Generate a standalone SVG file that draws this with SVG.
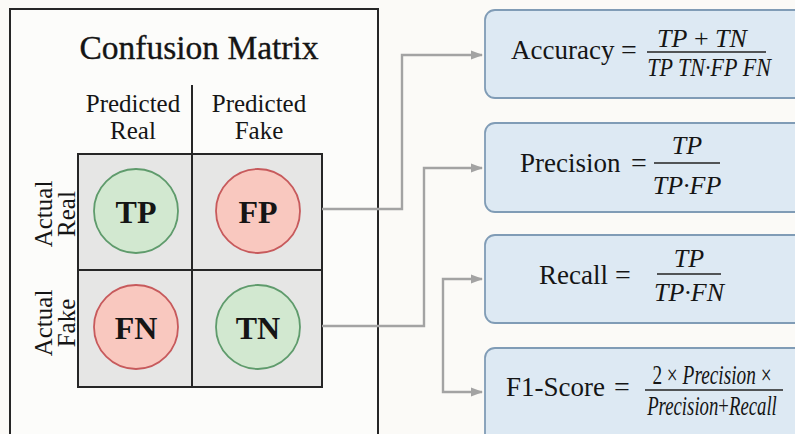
<svg xmlns="http://www.w3.org/2000/svg" width="795" height="434" viewBox="0 0 795 434">
  <defs>
    <marker id="arrow" viewBox="0 0 12 10" refX="11" refY="5" markerWidth="12" markerHeight="10" markerUnits="userSpaceOnUse" orient="auto">
      <path d="M0,0.5 L12,5 L0,9.5 Z" fill="#a3a3a3"/>
    </marker>
    <style>
      .serif { font-family: "Liberation Serif", "Times New Roman", serif; fill: #151515; }
      .title { font-size: 33.5px; stroke: #151515; stroke-width: 0.35; }
      .hdr { font-size: 25px; }
      .cell { font-size: 32px; font-weight: bold; }
      .lbl { font-size: 27px; }
      .eq { font-size: 28px; text-anchor: middle; }
      .num { font-size: 26px; font-style: italic; text-anchor: middle; }
      .f1 { font-size: 28px; text-anchor: middle; }
      .frac { stroke: #222; stroke-width: 1.6; }
      .box { fill: #dde9f3; stroke: #809cb6; stroke-width: 1.8; }
      .pos { fill: #d2e8d0; stroke: #5f9b6c; stroke-width: 1.8; }
      .neg { fill: #f9c8bf; stroke: #c75a5c; stroke-width: 1.8; }
      .conn { fill: none; stroke: #a3a3a3; stroke-width: 2.4; }
    </style>
  </defs>

  <rect width="795" height="434" fill="#fbfaf7"/>

  <!-- matrix panel -->
  <g id="matrix">
    <rect x="10" y="9" width="368" height="440" fill="#fcfcfa" stroke="#262626" stroke-width="2"/>
    <text class="serif title" x="199" y="59" text-anchor="middle">Confusion Matrix</text>
    <text class="serif hdr" text-anchor="middle"><tspan x="133" y="112">Predicted</tspan><tspan x="133" y="139">Real</tspan></text>
    <text class="serif hdr" text-anchor="middle"><tspan x="259" y="112">Predicted</tspan><tspan x="259" y="139">Fake</tspan></text>
    <rect x="78" y="154" width="244" height="233" fill="#e6e6e5" stroke="#262626" stroke-width="2"/>
    <line x1="192" y1="85" x2="192" y2="387" stroke="#262626" stroke-width="2"/>
    <line x1="78" y1="270" x2="322" y2="270" stroke="#262626" stroke-width="2"/>
    <g transform="translate(0,214) rotate(-90)">
      <text class="serif hdr" text-anchor="middle"><tspan x="0" y="52">Actual</tspan><tspan x="0" y="75">Real</tspan></text>
    </g>
    <g transform="translate(0,323) rotate(-90)">
      <text class="serif hdr" text-anchor="middle"><tspan x="0" y="52">Actual</tspan><tspan x="0" y="75">Fake</tspan></text>
    </g>
  </g>

  <g id="tp">
    <circle class="pos" cx="136" cy="211" r="42"/>
    <text class="serif cell" x="136" y="223" text-anchor="middle">TP</text>
  </g>
  <g id="fp">
    <circle class="neg" cx="258" cy="211" r="42"/>
    <text class="serif cell" x="258" y="223" text-anchor="middle">FP</text>
  </g>
  <g id="fn">
    <circle class="neg" cx="136" cy="327" r="42"/>
    <text class="serif cell" x="136" y="339" text-anchor="middle">FN</text>
  </g>
  <g id="tn">
    <circle class="pos" cx="258" cy="327" r="42"/>
    <text class="serif cell" x="258" y="339" text-anchor="middle">TN</text>
  </g>

  <!-- connectors -->
  <g id="connectors">
    <path class="conn" d="M322,209 H402 V55 H482" marker-end="url(#arrow)"/>
    <path class="conn" d="M322,326 H424 V168 H482" marker-end="url(#arrow)"/>
    <path class="conn" d="M443,336 V279 H482" marker-end="url(#arrow)"/>
    <path class="conn" d="M443,336 V392 H482" marker-end="url(#arrow)"/>
  </g>

  <g id="accuracy">
    <rect class="box" x="485" y="10" width="330" height="88" rx="10"/>
    <text class="serif lbl" x="511" y="59" font-size="26">Accuracy</text>
    <text class="serif eq" x="629" y="59">=</text>
    <text class="serif num" x="702" y="47">TP<tspan font-style="normal"> + </tspan>TN</text>
    <line class="frac" x1="647" y1="52" x2="766" y2="52"/>
    <g transform="translate(709,76) scale(0.85,1)">
      <text class="serif num" x="0" y="0">TP TN·FP FN</text>
    </g>
  </g>

  <g id="precision">
    <rect class="box" x="485" y="123" width="330" height="89" rx="10"/>
    <text class="serif lbl" x="520" y="172">Precision</text>
    <text class="serif eq" x="639" y="172">=</text>
    <text class="serif num" x="687" y="154">TP</text>
    <line class="frac" x1="654" y1="163" x2="720" y2="163"/>
    <text class="serif num" x="687" y="194">TP·FP</text>
  </g>

  <g id="recall">
    <rect class="box" x="485" y="235" width="330" height="88" rx="10"/>
    <text class="serif lbl" x="539" y="284">Recall</text>
    <text class="serif eq" x="623" y="284">=</text>
    <text class="serif num" x="689" y="267">TP</text>
    <line class="frac" x1="657" y1="274" x2="721" y2="274"/>
    <text class="serif num" x="689" y="301">TP·FN</text>
  </g>

  <g id="f1score">
    <rect class="box" x="485" y="348" width="330" height="100" rx="10"/>
    <text class="serif lbl" x="506" y="396">F1-Score</text>
    <text class="serif eq" x="622" y="396">=</text>
    <g transform="translate(712,384) scale(0.69,1)">
      <text class="serif f1" x="0" y="0">2 × <tspan font-style="italic">Precision</tspan> ×</text>
    </g>
    <line class="frac" x1="645" y1="390" x2="783" y2="390"/>
    <g transform="translate(712,415) scale(0.67,1)">
      <text class="serif f1" x="0" y="0" font-style="italic">Precision<tspan font-style="normal">+</tspan>Recall</text>
    </g>
  </g>
</svg>
